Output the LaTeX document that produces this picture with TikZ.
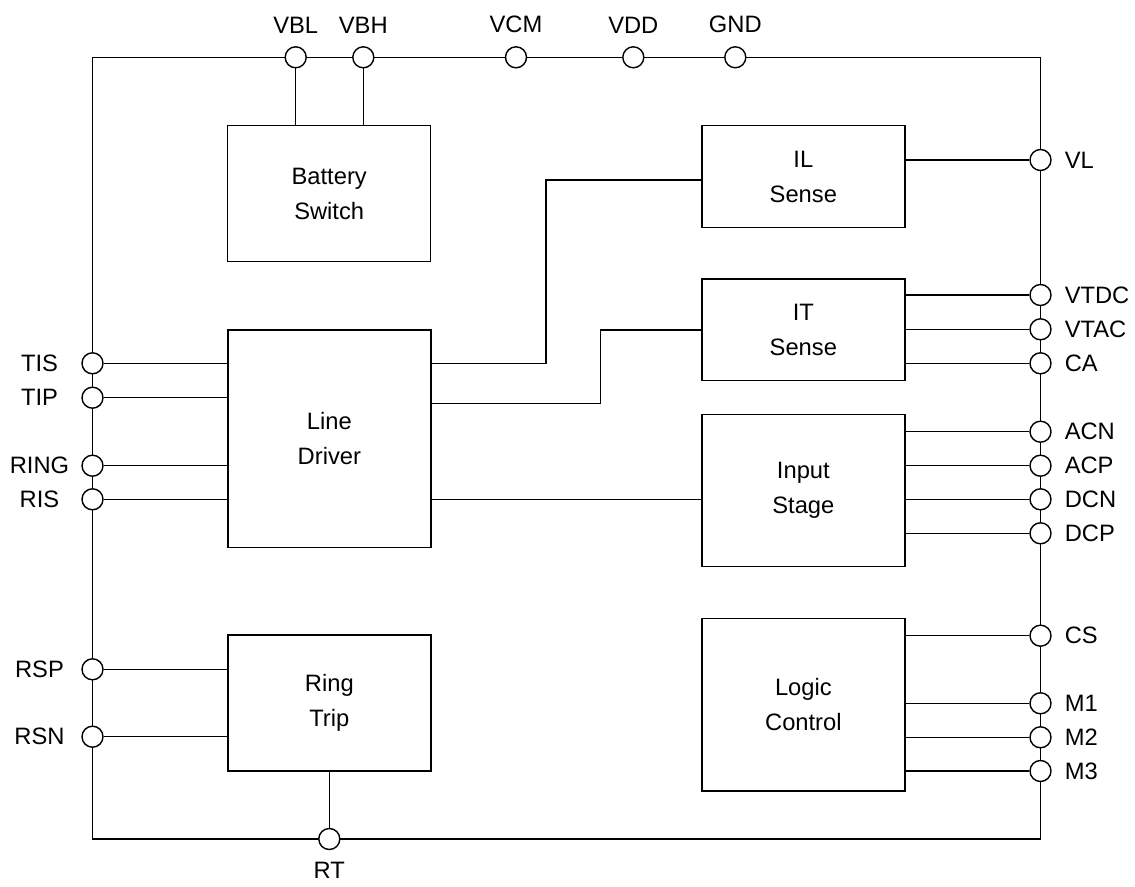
\documentclass[tikz,border=0pt]{standalone}
\usepackage{fontspec}
\setmainfont{Liberation Sans}
\usepackage{tikz}
\usetikzlibrary{positioning,calc}

\begin{document}
\begin{tikzpicture}[line width=0.8pt,
  every node/.style={font=\fontsize{13.5pt}{19.9pt}\selectfont},
  block/.style={draw, minimum width=4.06cm, inner sep=0pt, align=center},
  pin/.style={draw, circle, fill=white, minimum size=0.42cm, inner sep=0pt},
  pinlbl/.style={inner sep=0.333em},
  label distance=0.13cm]
\useasboundingbox (0,0) rectangle (22.7,17.72);

% Chip outline
\draw (1.85,0.94) rectangle (20.81,16.574);

% Blocks
\node[block, minimum height=2.72cm]  (bsw) at (6.584,13.846) {Battery\\Switch};
\node[block, minimum height=4.354cm] (ld)  at (6.587,8.943)  {Line\\Driver};
\node[block, minimum height=2.72cm]  (rtr) at (6.587,3.66)   {Ring\\Trip};
\node[block, minimum height=2.032cm] (ils) at (16.067,14.19) {IL\\Sense};
\node[block, minimum height=2.034cm] (its) at (16.067,11.123) {IT\\Sense};
\node[block, minimum height=3.048cm] (ins) at (16.067,7.91)  {Input\\Stage};
\node[block, minimum height=3.446cm] (lgc) at (16.067,3.623) {Logic\\Control};

% Top pins
\foreach \nm/\x/\lbl in {vbl/5.914/VBL, vbh/7.266/VBH, vcm/10.32/VCM,
  vdd/12.666/VDD, gnd/14.706/GND}{
  \node[pin, label={[pinlbl]above:\lbl}] (\nm) at (\x,16.574) {};
}

% Left pins
\foreach \nm/\y/\lbl in {tis/10.454/TIS, tip/9.766/TIP, ring/8.406/RING,
  ris/7.734/RIS, rsp/4.334/RSP, rsn/2.986/RSN}{
  \node[pin] (\nm) at (1.85,\y) {};
  \node[pinlbl] (\nm-lbl) at (0.79,\y) {\lbl};
}

% Right pins
\foreach \nm/\y/\lbl in {vl/14.52/VL, vtdc/11.82/VTDC, vtac/11.134/VTAC,
  ca/10.454/CA, acn/9.086/ACN, acp/8.406/ACP, dcn/7.734/DCN, dcp/7.054/DCP,
  cs/5.006/CS, m1/3.654/M1, m2/2.974/M2, m3/2.30/M3}{
  \node[pin, label={[pinlbl]right:\lbl}] (\nm) at (20.81,\y) {};
}

% Bottom pin
\node[pin, label={[pinlbl, label distance=0.11cm]below:RT}] (rt) at (6.586,0.94) {};

% Wiring
\draw (vbl) -- (vbl |- bsw.north);
\draw (vbh) -- (vbh |- bsw.north);
\foreach \nm in {tis,tip,ring,ris}{
  \draw (\nm) -- (\nm -| ld.west);
}
\foreach \nm in {rsp,rsn}{
  \draw (\nm) -- (\nm -| rtr.west);
}
\draw (rt) -- (rt |- rtr.south);
\foreach \nm/\bx in {vl/ils, vtdc/its, vtac/its, ca/its, acn/ins, acp/ins,
  dcn/ins, dcp/ins, cs/lgc, m1/lgc, m2/lgc, m3/lgc}{
  \draw (\nm -| \bx.east) -- (\nm);
}

% Line driver to sense blocks
\coordinate (ilbend) at (10.92,14.12);
\coordinate (itbend) at (12.006,9.646);
\draw (tis -| ld.east) -| (ilbend) -- (ilbend -| ils.west);
\draw (itbend -| ld.east) -- (itbend) |- (its.west);
\draw (ris -| ld.east) -- (ris -| ins.west);
\end{tikzpicture}
\end{document}
